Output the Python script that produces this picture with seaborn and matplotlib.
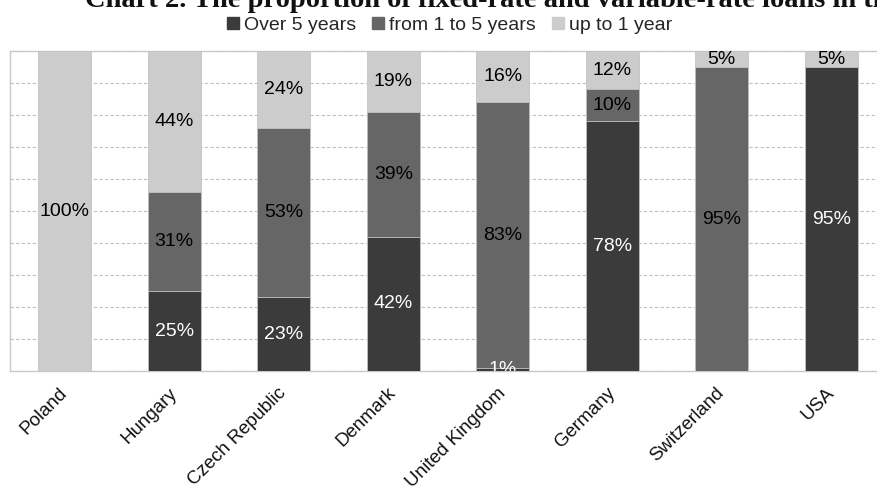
import numpy as np
import pandas as pd
import matplotlib
matplotlib.use("Agg")
import matplotlib.pyplot as plt
from matplotlib.lines import Line2D
import seaborn as sns

countries = ["Poland", "Hungary", "Czech Republic", "Denmark",
             "United Kingdom", "Germany", "Switzerland", "USA"]
over5 = [0, 25, 23, 42, 1, 78, 0, 95]
from1to5 = [0, 31, 53, 39, 83, 10, 95, 0]
upto1 = [100, 44, 24, 19, 16, 12, 5, 5]
series_names = ["Over 5 years", "from 1 to 5 years", "up to 1 year"]
colors = ["#3b3b3b", "#666666", "#cccccc"]
label_colors = ["white", "black", "black"]
title = "Chart 2. The proportion of fixed-rate and variable-rate loans in the selected countries"

sns.set_style("white")
plt.rcParams["font.family"] = ["Liberation Sans", "DejaVu Sans"]

df = pd.DataFrame({"country": countries, "over5": over5,
                   "from1to5": from1to5, "upto1": upto1})
df["lvl1"] = df["over5"]
df["lvl2"] = df["over5"] + df["from1to5"]
df["lvl3"] = df["lvl2"] + df["upto1"]

fig = plt.figure(figsize=(8.77, 4.91), dpi=100)
W, H = 877, 491
ax = fig.add_axes([10 / W, 1 - 371 / H, 876 / W, 320 / H])

bw = 0.48
edge = "#c4c4c4"
for col, c in zip(["lvl3", "lvl2", "lvl1"], colors[::-1]):
    sns.barplot(data=df, x="country", y=col, color=c, width=bw,
                edgecolor=edge, linewidth=0.6, saturation=1, ax=ax, zorder=3)

# data labels
segs = [over5, from1to5, upto1]
for i in range(len(countries)):
    base = 0
    for s, vals in enumerate(segs):
        v = vals[i]
        if v > 0:
            ax.text(i, base + v / 2, f"{v}%", ha="center", va="center",
                    fontsize=14, color=label_colors[s], zorder=5, clip_on=True)
        base += v

ax.set_xlim(-0.5, 7.5)
ax.set_ylim(0, 100)
ax.set_yticks(np.arange(0, 101, 10))
ax.set_yticklabels([])
ax.tick_params(axis="y", length=0)
ax.yaxis.grid(True, linestyle=(0, (3, 2)), color="#c0c0c0", linewidth=0.8, zorder=0)
ax.set_axisbelow(True)
ax.set_xlabel("")
ax.set_ylabel("")

ax.set_xticks(range(len(countries)))
ax.set_xticklabels(countries, rotation=45, ha="right", va="center",
                   rotation_mode="anchor", fontsize=13.5, color="#111111")
ax.tick_params(axis="x", which="major", length=0, pad=14)
ax.set_xticks(np.arange(-0.5, 8.0, 1.0), minor=True)
ax.tick_params(axis="x", which="minor", length=7, color="#b8b8b8", width=1)

for sp in ax.spines.values():
    sp.set_visible(True)
    sp.set_color("#c8c8c8")
    sp.set_linewidth(1)

handles = [Line2D([0], [0], marker="s", linestyle="", markersize=8,
                  markerfacecolor=c, markeredgecolor=c) for c in colors]
fig.legend(handles, series_names, loc="center", bbox_to_anchor=(448 / W, 1 - 25 / H),
           ncol=3, frameon=False, fontsize=14, handletextpad=0.1,
           columnspacing=0.7, handlelength=0.9, borderpad=0.1)

fig.text(85 / W, 1 - 7 / H, title, ha="left", va="baseline",
         fontsize=20.5, fontweight="bold", family=["Liberation Serif", "DejaVu Serif"],
         color="#111111")

fig.savefig("out.png", dpi=100)
